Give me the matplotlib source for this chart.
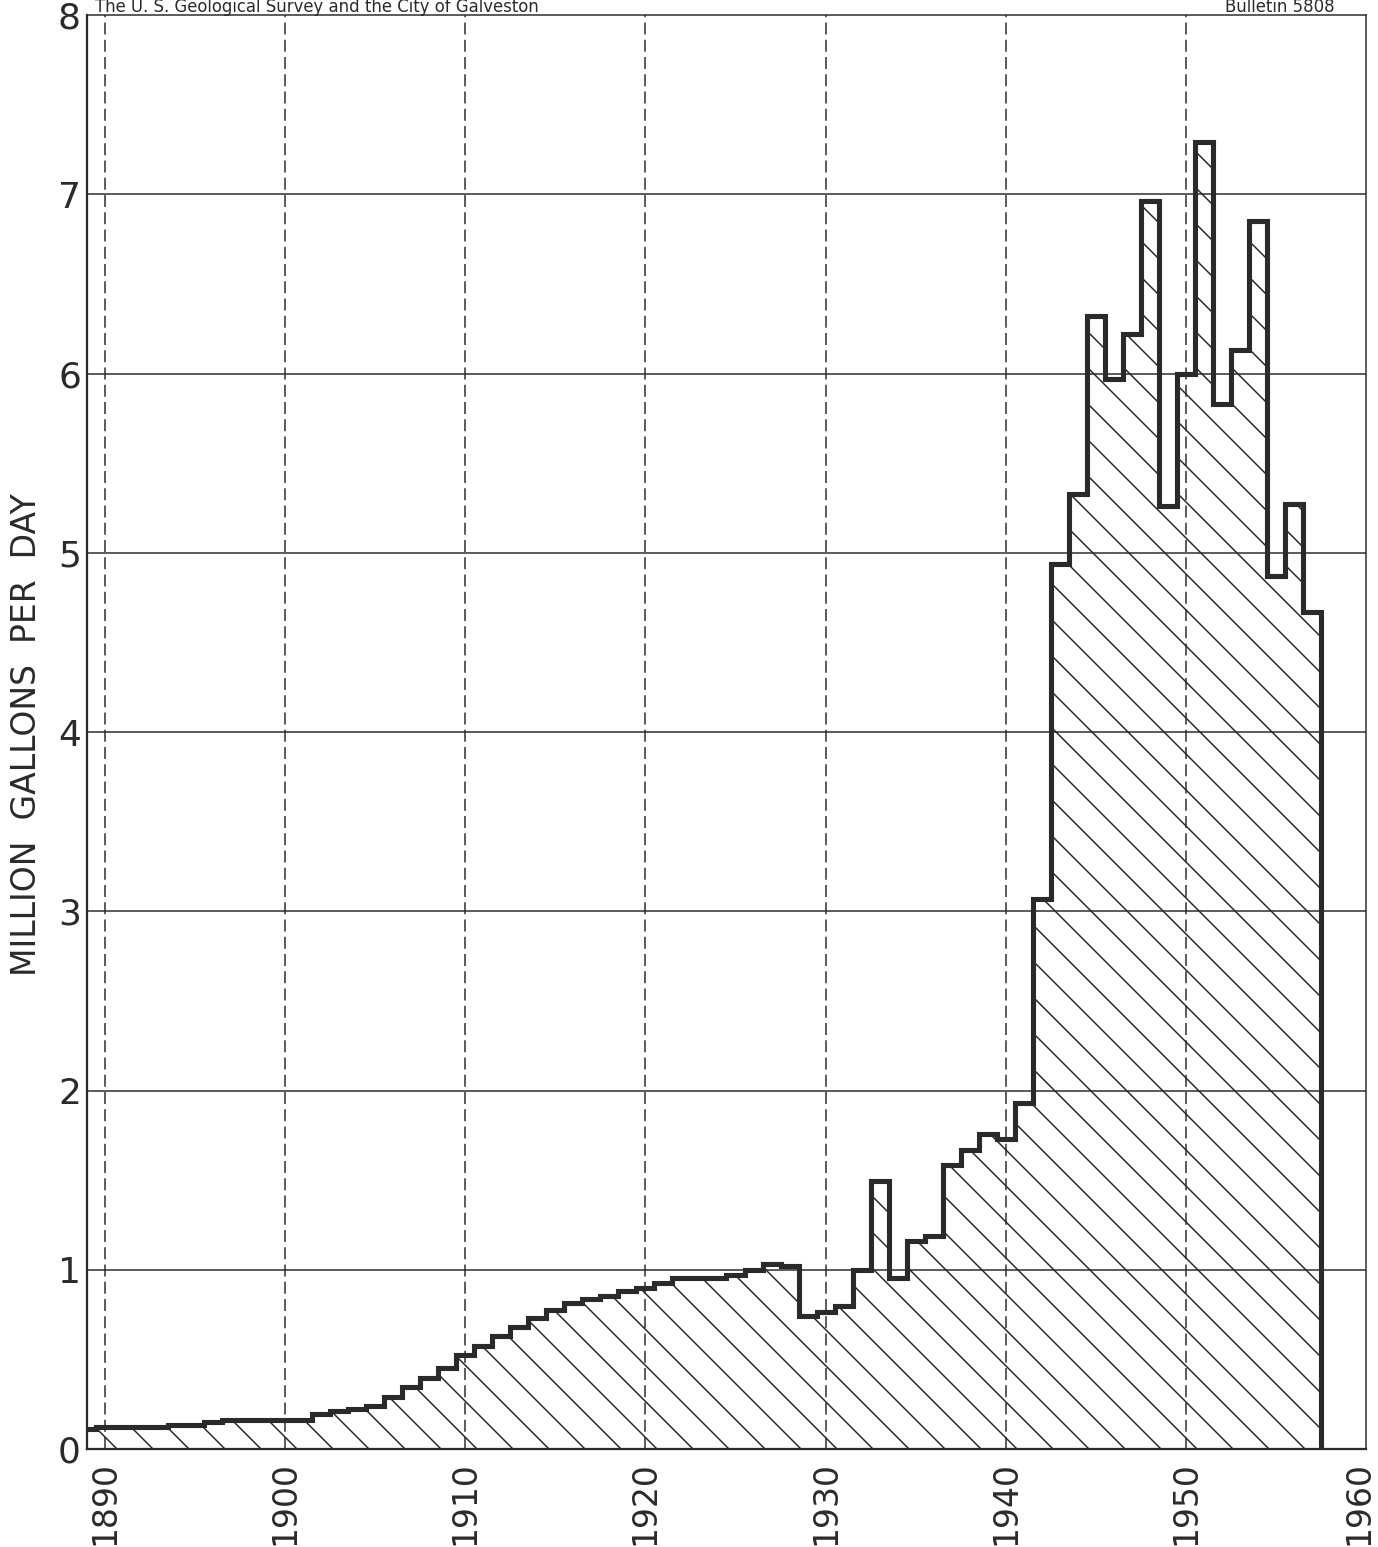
import matplotlib.pyplot as plt
import matplotlib.transforms as mtransforms
import numpy as np

# yearly pumpage, million gallons per day
years = list(range(1889, 1958))
mgd = [0.11, 0.12, 0.12, 0.12, 0.125, 0.134, 0.134, 0.149, 0.162, 0.162,   # 1889-1898
       0.162, 0.162, 0.162, 0.196, 0.214, 0.225, 0.24, 0.292, 0.348, 0.395,  # 1899-1908
       0.45, 0.525, 0.572, 0.63, 0.68, 0.73, 0.776, 0.814, 0.836, 0.855,     # 1909-1918
       0.879, 0.898, 0.925, 0.953, 0.953, 0.953, 0.972, 1.0, 1.034, 1.022,   # 1919-1928
       0.74, 0.765, 0.80, 1.0, 1.494, 0.954, 1.163, 1.19, 1.583, 1.667,      # 1929-1938
       1.756, 1.73, 1.93, 3.07, 4.94, 5.33, 6.32, 5.97, 6.22, 6.96,          # 1939-1948
       5.26, 6.0, 7.29, 5.83, 6.13, 6.85, 4.87, 5.27, 4.67]                  # 1949-1957

decades = [1890, 1900, 1910, 1920, 1930, 1940, 1950, 1960]
levels = [0, 1, 2, 3, 4, 5, 6, 7, 8]

header_left = "The U. S. Geological Survey and the City of Galveston"
header_right = "Bulletin 5808"
ylab = "MILLION  GALLONS  PER  DAY"

DPI = 216  # hatch tile is one inch, so this sets the hatch spacing
W, H = 1378, 1547
plt.rcParams['font.family'] = ['DejaVu Sans']
plt.rcParams['hatch.linewidth'] = 0.5

fig = plt.figure(figsize=(W / DPI, H / DPI), dpi=DPI)
ax = fig.add_axes([87 / W, 98 / H, (1366 - 87) / W, (1532 - 98) / H])

ink = '#2a2a2a'

# grid
for lv in levels[1:-1]:
    ax.axhline(lv, color=ink, lw=0.5, zorder=1)
for d in decades[:-1]:
    ax.axvline(d, color=ink, lw=0.5, dashes=(8, 3.5), zorder=1)

edges = np.append(np.array(years) - 0.5, years[-1] + 0.5)
ax.stairs(mgd, edges, fill=True, facecolor='none', edgecolor=ink,
          linewidth=0, hatch='\\\\', zorder=2)
ax.stairs(mgd, edges, baseline=0, color=ink, linewidth=1.7, zorder=3)

ax.set_xlim(1889, 1960)
ax.set_ylim(0, 8)
ax.set_xticks(decades)
ax.set_xticklabels([str(d) for d in decades], rotation=90, fontsize=11)
ax.set_yticks(levels)
ax.set_yticklabels([str(v) for v in levels], fontsize=12)
ax.tick_params(axis='both', length=0, colors=ink)
ax.tick_params(axis='x', pad=4)
ax.tick_params(axis='y', pad=2)

# last year label sits on the right edge, nudge it inside the canvas
last = ax.get_xticklabels()[-1]
last.set_transform(last.get_transform() +
                   mtransforms.ScaledTranslation(-7 / DPI, 0, fig.dpi_scale_trans))

for side in ['left', 'bottom']:
    ax.spines[side].set_linewidth(0.75)
for side in ['top', 'right']:
    ax.spines[side].set_linewidth(0.5)
for sp in ax.spines.values():
    sp.set_color(ink)

fig.text(27 / W, 1 - 735 / H, ylab, rotation=90, ha='center', va='center',
         fontsize=11, color=ink)
fig.text(95 / W, 1 - 12 / H, header_left, ha='left', va='baseline',
         fontsize=5.5, color=ink)
fig.text(1335 / W, 1 - 12 / H, header_right, ha='right', va='baseline',
         fontsize=5.5, color=ink)

fig.savefig('out.png', dpi=DPI, facecolor='white')
